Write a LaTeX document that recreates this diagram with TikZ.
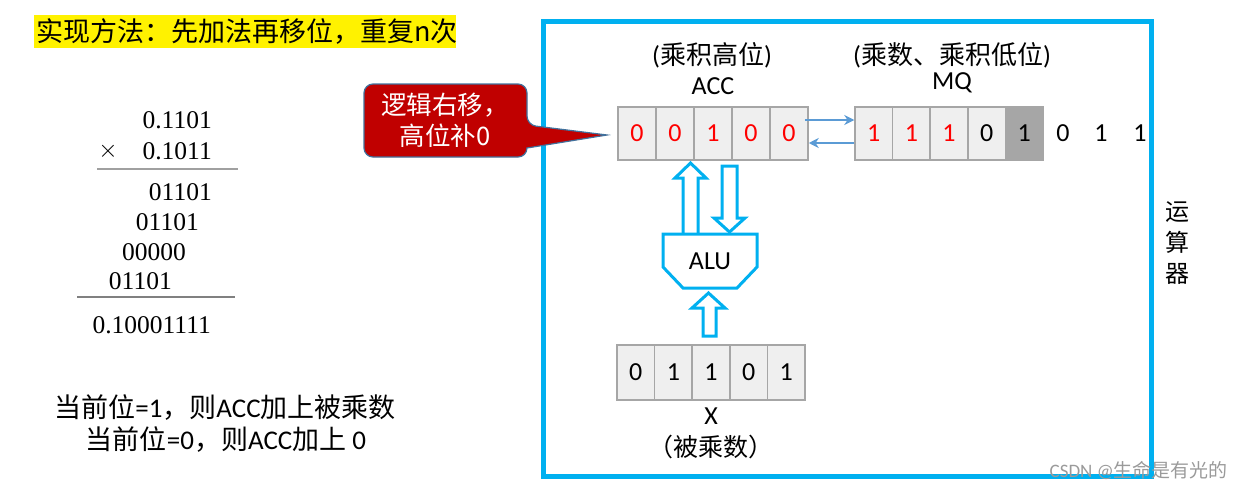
\documentclass[tikz,border=0pt]{standalone}
\usepackage{fontspec}
\setmainfont{Carlito}
\newfontfamily\cjk{Noto Sans CJK SC}
\newfontfamily\tnr{Liberation Serif}
\usetikzlibrary{arrows.meta}
\definecolor{frameblue}{HTML}{00B0F0}
\definecolor{cellfill}{HTML}{EFEFEF}
\definecolor{cellline}{HTML}{A6A6A6}
\definecolor{darkcell}{HTML}{A6A6A6}
\definecolor{calloutred}{HTML}{C00000}
\definecolor{calloutline}{HTML}{41719C}
\definecolor{linkblue}{HTML}{5B9BD5}
\definecolor{rulegray}{HTML}{A0A0A0}
\definecolor{wmgray}{HTML}{9A9A9A}
\begin{document}
\begin{tikzpicture}[x=1pt,y=-1pt,
  cell/.style={draw=cellline, line width=1.5pt, fill=cellfill, minimum height=53pt, inner sep=0pt, font=\fontsize{26}{26}\selectfont},
  lbl/.style={inner sep=0pt, font=\fontsize{26}{30}\selectfont},
  num/.style={inner sep=0pt, anchor=east, font=\tnr\fontsize{25.5}{25.5}\selectfont},
  hollow/.style={draw=frameblue, line width=3pt, fill=white, line join=miter},
  link/.style={draw=linkblue, line width=2.8pt, -{Stealth[length=10pt,width=10pt]}}]
\useasboundingbox (0,0) rectangle (1242,490);
% title
\node[fill=yellow, inner sep=0pt, minimum width=422pt, minimum height=33pt, anchor=north west] (titlebox) at (34,15) {};
\node[inner sep=0pt, anchor=west, font=\fontsize{27}{27}\selectfont] (title) at (36,31.5) {\cjk 实现方法：先加法再移位，重复n次};
% multiplication
\node[num] (m1) at (212,120) {0.1101};
\node[num] (m2) at (212,151) {0.1011};
\node[num] (mx) at (118,151) {$\times$};
\draw[rulegray, line width=2pt] (97,169) -- (238,169);
\node[num] (p1) at (212,192) {01101};
\node[num] (p2) at (199,222) {01101};
\node[num] (p3) at (186,252) {00000};
\node[num] (p4) at (172,281) {01101};
\draw[gray, line width=1.5pt] (77,297) -- (235,297);
\node[num] (res) at (211,325) {0.10001111};
% notes
\node[lbl, font=\fontsize{27}{30}\selectfont] (note1) at (225,408) {{\cjk 当前位}=1{\cjk ，则}ACC{\cjk 加上被乘数}};
\node[lbl, font=\fontsize{27}{30}\selectfont] (note2) at (226,440) {{\cjk 当前位}=0{\cjk ，则}ACC{\cjk 加上} 0};
% frame
\draw[frameblue, line width=5pt] (543.5,21) rectangle (1151.5,476);
\node[lbl, align=center, font=\cjk\fontsize{24}{31}\selectfont] (unit) at (1177,243) {运\\算\\器};
% callout
\draw[fill=calloutred, draw=calloutline, line width=1.2pt, rounded corners=9pt]
  (446,84) -- (527,84) -- (527,125) {[sharp corners] -- (607,135) -- (527,148)} -- (527,157) -- (364,157) -- (364,84) -- cycle;
\node[lbl, text=white, align=center, font=\cjk\fontsize{25.5}{31}\selectfont] (callout) at (445,120) {逻辑右移，\\高位补0};
% ACC
\foreach \d [count=\i] in {0,0,1,0,0}
  \node[cell, minimum width=38pt, text=red] (acc\i) at ({618+38*(\i-0.5)},133.5) {\d};
\node[lbl] (acclbl) at (713,86) {ACC};
\node[lbl] (acchead) at (712,55) {(\cjk 乘积高位\normalfont)};
% MQ
\foreach \d/\c [count=\i] in {1/red,1/red,1/red,0/black}
  \node[cell, minimum width=37.6pt, text=\c] (mq\i) at ({855+37.6*(\i-0.5)},133.5) {\d};
\node[cell, minimum width=37.6pt, fill=darkcell] (mq5) at ({855+37.6*4.5},133.5) {1};
\node[lbl, font=\fontsize{26}{26}\selectfont] (o1) at (1063,133.5) {0};
\node[lbl, font=\fontsize{26}{26}\selectfont] (o2) at (1101,133.5) {1};
\node[lbl, font=\fontsize{26}{26}\selectfont] (o3) at (1140,133.5) {1};
\node[lbl] (mqlbl) at (952,83) {MQ};
\node[lbl] (mqhead) at (952,55) {(\cjk 乘数、乘积低位\normalfont)};
% links ACC <-> MQ
\draw[link] ([yshift=13.5pt,xshift=-4pt]acc5.east) -- ([yshift=13.5pt]mq1.west);
\draw[link] ([yshift=-9.5pt]mq1.west) -- ([yshift=-9.5pt]acc5.east);
% hollow arrows
\draw[hollow] (683,233) -- (683,178) -- (675,178) -- (690.5,163) -- (706,178) -- (698,178) -- (698,233);
\draw[hollow] (722,218) -- (722,166) -- (737,166) -- (737,218) -- (745,218) -- (729.5,232) -- (714,218) -- cycle;
% ALU
\draw[hollow] (663,234) -- (757,234) -- (757,267) -- (737,288) -- (683,288) -- (663,267) -- cycle;
\node[lbl, font=\fontsize{26}{26}\selectfont] (alu) at (710,261) {ALU};
\draw[hollow] (703,336) -- (703,308) -- (692,308) -- (708.5,293) -- (725,308) -- (716,308) -- (716,336) -- cycle;
% X register
\foreach \d [count=\i] in {0,1,1,0,1}
  \node[cell, minimum width=37.6pt, minimum height=55pt] (x\i) at ({617+37.6*(\i-0.5)},372.5) {\d};
\node[lbl] (xlbl) at (711,416) {X};
\node[lbl, font=\cjk\fontsize{25}{25}\selectfont] (xhead) at (711,447) {（被乘数）};
% watermark
\node[inner sep=0pt, anchor=east, text=wmgray, font=\fontsize{19}{19}\selectfont] (wm) at (1228,470) {CSDN @{\cjk 生命是有光的}};
\end{tikzpicture}
\end{document}
